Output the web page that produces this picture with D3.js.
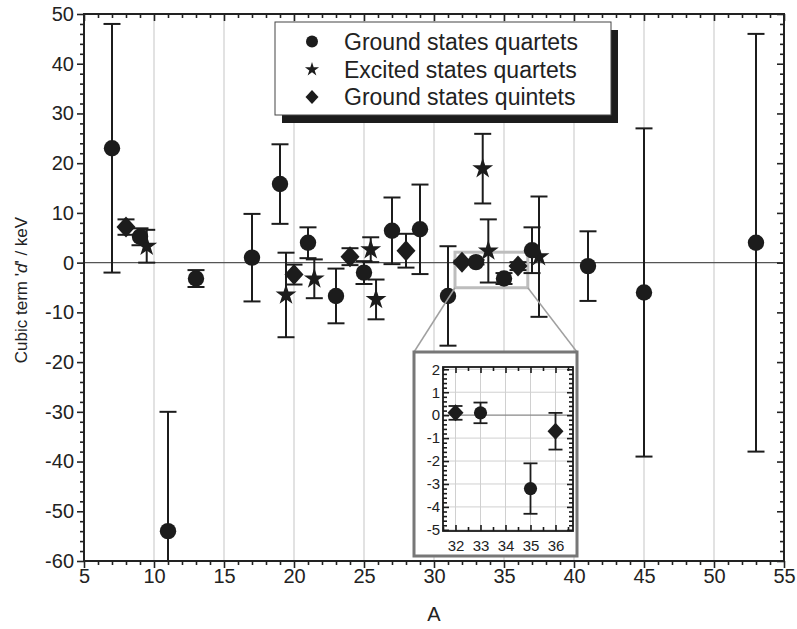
<!DOCTYPE html>
<html><head><meta charset="utf-8">
<script src="https://cdn.jsdelivr.net/npm/d3@7"></script>
<style>
body{margin:0;background:#fff}
text{font-family:"Liberation Sans",Arial,sans-serif;fill:#222}
</style>
</head><body>
<svg id="c" width="797" height="629"></svg>
<script>
// ---------- data ----------
const xTicks = [5,10,15,20,25,30,35,40,45,50,55];
const yTicks = [-60,-50,-40,-30,-20,-10,0,10,20,30,40,50];
const xGrid = [10,15,20,25,30,35,40,45,50];

// Ground states quartets (circles)
const gsqA = [7, 9, 11, 13, 17, 19, 21, 23, 25, 27, 29, 31, 33, 35, 37, 41, 45, 53];
const gsqD = [23, 5.2, -54, -3.2, 1.0, 15.8, 4.0, -6.7, -2.0, 6.4, 6.7, -6.7, 0.1, -3.2, 2.5, -0.7, -6, 4];
const gsqE = [25, 1.7, 24, 1.7, 8.8, 8, 3.1, 5.5, 2.3, 6.7, 9, 10, 0.45, 1.1, 4.6, 7, 33, 42];

// Excited states quartets (stars)
const esqA = [9.48, 19.43, 21.45, 25.48, 25.86, 33.48, 33.88, 37.5];
const esqD = [3.3, -6.5, -3.25, 2.6, -7.4, 18.9, 2.35, 1.2];
const esqE = [3.3, 8.5, 3.9, 2.5, 4.0, 7.0, 6.35, 12.1];

// Ground states quintets (diamonds)
const gsquA = [8, 20, 24, 28, 32, 36];
const gsquD = [7.15, -2.4, 1.2, 2.4, 0.1, -0.7];
const gsquE = [1.55, 2.0, 1.7, 3.4, 0.3, 0.8];

const insetXTicks = [32,33,34,35,36];
const insetYTicks = [-5,-4,-3,-2,-1,0,1,2];
const insetXDomain = [31.5, 36.7];
const insetYDomain = [-5.05, 2.1];

const legendLabels = ["Ground states quartets","Excited states quartets","Ground states quintets"];
const xLabel = "A";

// ---------- setup ----------
const svg = d3.select("#c");
const INK = "#1c1c1c";
const fmt = d => String(d);
const x = d3.scaleLinear().domain([5,55]).range([84,784]);
const y = d3.scaleLinear().domain([-60,50]).range([561,14]);

svg.append("defs").append("clipPath").attr("id","plot")
  .append("rect").attr("x",x(5)).attr("y",y(50)).attr("width",x(55)-x(5)).attr("height",y(-60)-y(50));

const rows = (A,D,E) => A.map((a,i)=>({a, d:D[i], e:E[i]}));
const circles = rows(gsqA,gsqD,gsqE);
const stars = rows(esqA,esqD,esqE);
const diamonds = rows(gsquA,gsquD,gsquE);

const diamondPath = (hw,hh)=>`M0,${-hh}L${hw},0L0,${hh}L${-hw},0Z`;

// grid
const grid = svg.append("g");
grid.selectAll("line").data(xGrid).join("line")
  .attr("x1",d=>x(d)).attr("x2",d=>x(d)).attr("y1",y(50)).attr("y2",y(-60))
  .attr("stroke","#d9d9d9").attr("stroke-width",1.5);
grid.append("line").attr("x1",x(5)).attr("x2",x(55)).attr("y1",y(0)).attr("y2",y(0))
  .attr("stroke","#555").attr("stroke-width",1.2);

// zoom rectangle
svg.append("rect")
  .attr("x",x(insetXDomain[0])).attr("y",y(insetYDomain[1]))
  .attr("width",x(insetXDomain[1])-x(insetXDomain[0]))
  .attr("height",y(insetYDomain[0])-y(insetYDomain[1]))
  .attr("fill","none").attr("stroke","#bdbdbd").attr("stroke-width",3);

// data
const plot = svg.append("g").attr("clip-path","url(#plot)");
function errBars(sel, data, xs, ys, cap, sw){
  const g = sel.append("g").attr("stroke",INK).attr("stroke-width",sw);
  g.selectAll("line.v").data(data).join("line").attr("class","v")
    .attr("x1",d=>xs(d.a)).attr("x2",d=>xs(d.a)).attr("y1",d=>ys(d.d+d.e)).attr("y2",d=>ys(d.d-d.e));
  g.selectAll("line.t").data(data).join("line").attr("class","t")
    .attr("x1",d=>xs(d.a)-cap).attr("x2",d=>xs(d.a)+cap).attr("y1",d=>ys(d.d+d.e)).attr("y2",d=>ys(d.d+d.e));
  g.selectAll("line.b").data(data).join("line").attr("class","b")
    .attr("x1",d=>xs(d.a)-cap).attr("x2",d=>xs(d.a)+cap).attr("y1",d=>ys(d.d-d.e)).attr("y2",d=>ys(d.d-d.e));
}
errBars(plot, diamonds, x, y, 8.5, 2);
errBars(plot, stars, x, y, 8.5, 2);
errBars(plot, circles, x, y, 8.5, 2);

plot.selectAll("path.dia").data(diamonds).join("path").attr("class","dia")
  .attr("d",diamondPath(9.5,10.5)).attr("transform",d=>`translate(${x(d.a)},${y(d.d)})`).attr("fill",INK);
plot.selectAll("path.star").data(stars).join("path").attr("class","star")
  .attr("d",d3.symbol(d3.symbolStar,135)()).attr("transform",d=>`translate(${x(d.a)},${y(d.d)})`).attr("fill",INK);
plot.selectAll("circle.c").data(circles).join("circle").attr("class","c")
  .attr("cx",d=>x(d.a)).attr("cy",d=>y(d.d)).attr("r",8.2).attr("fill",INK);

// axes
const xMinor = d3.range(5,56,1).filter(v=>v%5!==0);
const yMinor = d3.range(-60,51,2).filter(v=>v%10!==0);
function styleAx(s, fs){
  s.select(".domain").remove();
  s.selectAll("line").attr("stroke","#222").attr("stroke-width",1.6);
  s.selectAll("text").attr("font-size",fs).attr("fill","#222")
    .attr("font-family",'"Liberation Sans",Arial,sans-serif');
}
const ax = svg.append("g");
ax.append("g").attr("transform",`translate(0,${y(-60)})`)
  .call(d3.axisBottom(x).tickValues(xTicks).tickSize(7).tickPadding(1).tickFormat(fmt)).call(s=>styleAx(s,20));
ax.append("g").attr("transform",`translate(0,${y(-60)})`)
  .call(d3.axisBottom(x).tickValues(xMinor).tickSize(4).tickFormat("")).call(s=>styleAx(s,20));
ax.append("g").attr("transform",`translate(0,${y(50)})`)
  .call(d3.axisTop(x).tickValues(xTicks).tickSize(-7).tickFormat("")).call(s=>styleAx(s,20));
ax.append("g").attr("transform",`translate(0,${y(50)})`)
  .call(d3.axisTop(x).tickValues(xMinor).tickSize(-4).tickFormat("")).call(s=>styleAx(s,20));
ax.append("g").attr("transform",`translate(${x(5)},0)`)
  .call(d3.axisLeft(y).tickValues(yTicks).tickSize(7).tickPadding(3).tickFormat(fmt)).call(s=>styleAx(s,20));
ax.append("g").attr("transform",`translate(${x(5)},0)`)
  .call(d3.axisLeft(y).tickValues(yMinor).tickSize(4).tickFormat("")).call(s=>styleAx(s,20));
ax.append("g").attr("transform",`translate(${x(55)},0)`)
  .call(d3.axisRight(y).tickValues(yTicks).tickSize(-7).tickFormat("")).call(s=>styleAx(s,20));
ax.append("g").attr("transform",`translate(${x(55)},0)`)
  .call(d3.axisRight(y).tickValues(yMinor).tickSize(-4).tickFormat("")).call(s=>styleAx(s,20));
svg.append("rect").attr("x",x(5)).attr("y",y(50)).attr("width",x(55)-x(5)).attr("height",y(-60)-y(50))
  .attr("fill","none").attr("stroke","#222").attr("stroke-width",2);

// axis titles
svg.append("text").attr("x",(x(5)+x(55))/2).attr("y",621).attr("text-anchor","middle")
  .attr("font-size",20).text(xLabel);
const yl = svg.append("text").attr("transform","translate(27,290) rotate(-90)")
  .attr("text-anchor","middle").attr("font-size",17);
yl.append("tspan").text("Cubic term '");
yl.append("tspan").attr("font-style","italic").text("d");
yl.append("tspan").text("' / keV");

// ---------- inset ----------
const box = {x:414, y:352, w:163, h:204};
svg.append("line").attr("x1",x(insetXDomain[0])).attr("y1",y(insetYDomain[0])).attr("x2",box.x).attr("y2",box.y)
  .attr("stroke","#a0a0a0").attr("stroke-width",1.5);
svg.append("line").attr("x1",x(insetXDomain[1])).attr("y1",y(insetYDomain[0])).attr("x2",box.x+box.w).attr("y2",box.y)
  .attr("stroke","#a0a0a0").attr("stroke-width",1.5);
svg.append("rect").attr("x",box.x).attr("y",box.y).attr("width",box.w).attr("height",box.h)
  .attr("fill","#fff").attr("stroke","#777").attr("stroke-width",3);

const ix = d3.scaleLinear().domain(insetXDomain).range([443,573]);
const iy = d3.scaleLinear().domain(insetYDomain).range([531,367]);
const ins = svg.append("g");
ins.selectAll("line.gx").data(insetXTicks).join("line").attr("class","gx")
  .attr("x1",d=>ix(d)).attr("x2",d=>ix(d)).attr("y1",iy.range()[1]).attr("y2",iy.range()[0])
  .attr("stroke","#d0d0d0").attr("stroke-width",1);
ins.selectAll("line.gy").data(insetYTicks.filter(v=>v!==0)).join("line").attr("class","gy")
  .attr("x1",ix.range()[0]).attr("x2",ix.range()[1]).attr("y1",d=>iy(d)).attr("y2",d=>iy(d))
  .attr("stroke","#d0d0d0").attr("stroke-width",1);
ins.append("line").attr("x1",ix.range()[0]).attr("x2",ix.range()[1]).attr("y1",iy(0)).attr("y2",iy(0))
  .attr("stroke","#888").attr("stroke-width",1.2);

const inDom = d => d.a>=insetXDomain[0] && d.a<=insetXDomain[1] && d.d>=insetYDomain[0] && d.d<=insetYDomain[1];
const ic = circles.filter(inDom), idm = diamonds.filter(inDom), ist = stars.filter(inDom);
errBars(ins, idm, ix, iy, 7, 1.8);
errBars(ins, ist, ix, iy, 7, 1.8);
errBars(ins, ic, ix, iy, 7, 1.8);
ins.selectAll("path.dia").data(idm).join("path").attr("class","dia")
  .attr("d",diamondPath(8,8.5)).attr("transform",d=>`translate(${ix(d.a)},${iy(d.d)})`).attr("fill",INK);
ins.selectAll("path.star").data(ist).join("path").attr("class","star")
  .attr("d",d3.symbol(d3.symbolStar,90)()).attr("transform",d=>`translate(${ix(d.a)},${iy(d.d)})`).attr("fill",INK);
ins.selectAll("circle.c").data(ic).join("circle").attr("class","c")
  .attr("cx",d=>ix(d.a)).attr("cy",d=>iy(d.d)).attr("r",6.6).attr("fill",INK);

const ixMinor = d3.range(31.5,36.75,0.5).filter(v=>!Number.isInteger(v));
const iyMinor = d3.range(-50,22,2).map(v=>v/10).filter(v=>!Number.isInteger(v) && v>=insetYDomain[0] && v<=insetYDomain[1]);
function styleIn(s){
  s.select(".domain").remove();
  s.selectAll("line").attr("stroke","#1a1a1a").attr("stroke-width",1.6);
  s.selectAll("text").attr("font-size",15).attr("fill","#222")
    .attr("font-family",'"Liberation Sans",Arial,sans-serif');
}
const iB = iy.range()[0], iT = iy.range()[1], iL = ix.range()[0], iR = ix.range()[1];
ins.append("g").attr("transform",`translate(0,${iB})`).call(d3.axisBottom(ix).tickValues(insetXTicks).tickSize(-6).tickPadding(9).tickFormat(fmt)).call(styleIn);
ins.append("g").attr("transform",`translate(0,${iB})`).call(d3.axisBottom(ix).tickValues(ixMinor).tickSize(-4).tickFormat("")).call(styleIn);
ins.append("g").attr("transform",`translate(0,${iT})`).call(d3.axisTop(ix).tickValues(insetXTicks).tickSize(-6).tickFormat("")).call(styleIn);
ins.append("g").attr("transform",`translate(0,${iT})`).call(d3.axisTop(ix).tickValues(ixMinor).tickSize(-4).tickFormat("")).call(styleIn);
ins.append("g").attr("transform",`translate(${iL},0)`).call(d3.axisLeft(iy).tickValues(insetYTicks).tickSize(-6).tickPadding(3).tickFormat(fmt)).call(styleIn);
ins.append("g").attr("transform",`translate(${iL},0)`).call(d3.axisLeft(iy).tickValues(iyMinor).tickSize(-4).tickFormat("")).call(styleIn);
ins.append("g").attr("transform",`translate(${iR},0)`).call(d3.axisRight(iy).tickValues(insetYTicks).tickSize(-6).tickFormat("")).call(styleIn);
ins.append("g").attr("transform",`translate(${iR},0)`).call(d3.axisRight(iy).tickValues(iyMinor).tickSize(-4).tickFormat("")).call(styleIn);
ins.append("rect").attr("x",iL).attr("y",iT).attr("width",iR-iL).attr("height",iB-iT)
  .attr("fill","none").attr("stroke","#1a1a1a").attr("stroke-width",1.8);

// ---------- legend ----------
const lg = {x:275, y:22, w:336, h:93};
svg.append("rect").attr("x",lg.x+7).attr("y",lg.y+8).attr("width",lg.w).attr("height",lg.h).attr("fill","#1c1c1c");
svg.append("rect").attr("x",lg.x).attr("y",lg.y).attr("width",lg.w).attr("height",lg.h)
  .attr("fill","#fff").attr("stroke","#444").attr("stroke-width",1);
const rowY = [41.5, 69.5, 97];
const symX = 312;
const leg = svg.append("g");
leg.append("circle").attr("cx",symX).attr("cy",rowY[0]).attr("r",6).attr("fill",INK);
leg.append("path").attr("d",d3.symbol(d3.symbolStar,62)()).attr("transform",`translate(${symX},${rowY[1]})`).attr("fill",INK);
leg.append("path").attr("d",diamondPath(6.5,7)).attr("transform",`translate(${symX},${rowY[2]})`).attr("fill",INK);
leg.selectAll("text").data(legendLabels).join("text")
  .attr("x",344).attr("y",(d,i)=>rowY[i]+8).attr("font-size",23).text(d=>d);
</script>
</body></html>
